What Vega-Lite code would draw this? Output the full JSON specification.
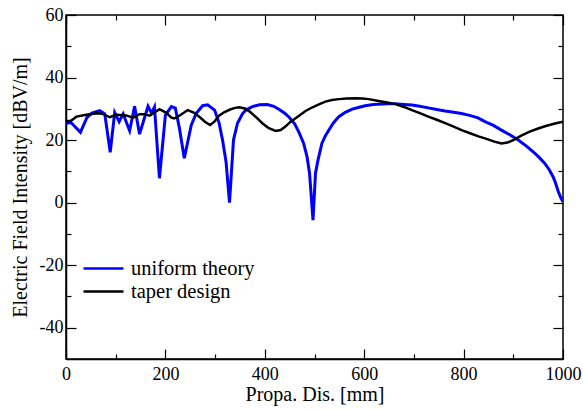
{
  "$schema": "https://vega.github.io/schema/vega-lite/v6.json",
  "width": 497,
  "height": 344,
  "autosize": {"type": "none"},
  "padding": {"left": 66, "top": 15, "right": 20, "bottom": 51},
  "background": "white",
  "config": {
    "view": {"stroke": "black", "strokeWidth": 1.5},
    "font": "Liberation Serif",
    "axis": {"grid": false, "domainColor": "black", "domainWidth": 1.5, "tickColor": "black", "tickWidth": 1.2, "labelColor": "black", "titleColor": "black", "labelFont": "Liberation Serif", "titleFont": "Liberation Serif", "labelFontSize": 18, "titleFontSize": 20, "titleFontWeight": "normal"}
  },
  "datasets": {
    "uniform": [
      {"series": "uniform theory", "x": 0, "y": 25.4}, {"series": "uniform theory", "x": 10, "y": 25.6}, {"series": "uniform theory", "x": 29, "y": 22.5}, {"series": "uniform theory", "x": 42, "y": 27.2}, {"series": "uniform theory", "x": 52, "y": 28.6}, {"series": "uniform theory", "x": 68, "y": 29.4}, {"series": "uniform theory", "x": 78, "y": 28.4}, {"series": "uniform theory", "x": 89, "y": 16.1}, {"series": "uniform theory", "x": 98, "y": 28.8}, {"series": "uniform theory", "x": 107, "y": 25.9}, {"series": "uniform theory", "x": 115, "y": 28.4}, {"series": "uniform theory", "x": 128, "y": 23.0}, {"series": "uniform theory", "x": 138, "y": 30.8}, {"series": "uniform theory", "x": 148, "y": 21.9}, {"series": "uniform theory", "x": 165, "y": 30.8}, {"series": "uniform theory", "x": 172, "y": 28.6}, {"series": "uniform theory", "x": 178, "y": 30.6}, {"series": "uniform theory", "x": 188, "y": 7.8}, {"series": "uniform theory", "x": 200, "y": 28.0}, {"series": "uniform theory", "x": 212, "y": 30.7}, {"series": "uniform theory", "x": 220, "y": 30.2}, {"series": "uniform theory", "x": 228, "y": 24.0}, {"series": "uniform theory", "x": 238, "y": 14.2}, {"series": "uniform theory", "x": 252, "y": 24.8}, {"series": "uniform theory", "x": 262, "y": 28.6}, {"series": "uniform theory", "x": 275, "y": 31.0}, {"series": "uniform theory", "x": 285, "y": 31.3}, {"series": "uniform theory", "x": 299, "y": 29.6}, {"series": "uniform theory", "x": 308, "y": 25.5}, {"series": "uniform theory", "x": 315, "y": 20.0}, {"series": "uniform theory", "x": 322, "y": 13.1}, {"series": "uniform theory", "x": 329, "y": 0.0}, {"series": "uniform theory", "x": 337, "y": 20.0}, {"series": "uniform theory", "x": 345, "y": 25.4}, {"series": "uniform theory", "x": 355, "y": 28.4}, {"series": "uniform theory", "x": 362, "y": 29.6}, {"series": "uniform theory", "x": 375, "y": 30.7}, {"series": "uniform theory", "x": 389, "y": 31.3}, {"series": "uniform theory", "x": 405, "y": 31.4}, {"series": "uniform theory", "x": 418, "y": 30.8}, {"series": "uniform theory", "x": 429, "y": 29.8}, {"series": "uniform theory", "x": 440, "y": 28.6}, {"series": "uniform theory", "x": 449, "y": 27.3}, {"series": "uniform theory", "x": 460, "y": 25.2}, {"series": "uniform theory", "x": 469, "y": 22.4}, {"series": "uniform theory", "x": 478, "y": 19.0}, {"series": "uniform theory", "x": 485, "y": 14.7}, {"series": "uniform theory", "x": 490, "y": 9.4}, {"series": "uniform theory", "x": 497, "y": -5.6}, {"series": "uniform theory", "x": 502, "y": 9.4}, {"series": "uniform theory", "x": 507, "y": 13.6}, {"series": "uniform theory", "x": 515, "y": 19.0}, {"series": "uniform theory", "x": 522, "y": 21.4}, {"series": "uniform theory", "x": 529, "y": 23.2}, {"series": "uniform theory", "x": 538, "y": 25.5}, {"series": "uniform theory", "x": 549, "y": 27.5}, {"series": "uniform theory", "x": 562, "y": 28.9}, {"series": "uniform theory", "x": 576, "y": 29.9}, {"series": "uniform theory", "x": 590, "y": 30.5}, {"series": "uniform theory", "x": 602, "y": 31.0}, {"series": "uniform theory", "x": 615, "y": 31.3}, {"series": "uniform theory", "x": 629, "y": 31.5}, {"series": "uniform theory", "x": 645, "y": 31.6}, {"series": "uniform theory", "x": 662, "y": 31.6}, {"series": "uniform theory", "x": 680, "y": 31.4}, {"series": "uniform theory", "x": 696, "y": 31.2}, {"series": "uniform theory", "x": 712, "y": 30.8}, {"series": "uniform theory", "x": 729, "y": 30.3}, {"series": "uniform theory", "x": 746, "y": 29.8}, {"series": "uniform theory", "x": 763, "y": 29.3}, {"series": "uniform theory", "x": 780, "y": 28.9}, {"series": "uniform theory", "x": 796, "y": 28.5}, {"series": "uniform theory", "x": 812, "y": 27.9}, {"series": "uniform theory", "x": 829, "y": 27.1}, {"series": "uniform theory", "x": 843, "y": 25.9}, {"series": "uniform theory", "x": 860, "y": 24.7}, {"series": "uniform theory", "x": 876, "y": 23.2}, {"series": "uniform theory", "x": 893, "y": 21.7}, {"series": "uniform theory", "x": 910, "y": 20.0}, {"series": "uniform theory", "x": 927, "y": 18.0}, {"series": "uniform theory", "x": 943, "y": 15.8}, {"series": "uniform theory", "x": 953, "y": 14.3}, {"series": "uniform theory", "x": 963, "y": 12.6}, {"series": "uniform theory", "x": 972, "y": 10.6}, {"series": "uniform theory", "x": 980, "y": 8.3}, {"series": "uniform theory", "x": 985, "y": 6.3}, {"series": "uniform theory", "x": 990, "y": 3.8}, {"series": "uniform theory", "x": 995, "y": 1.8}, {"series": "uniform theory", "x": 1000, "y": 0.3}
    ],
    "taper": [
      {"series": "taper design", "x": 0, "y": 26.0}, {"series": "taper design", "x": 10, "y": 26.2}, {"series": "taper design", "x": 21, "y": 27.5}, {"series": "taper design", "x": 41, "y": 28.1}, {"series": "taper design", "x": 55, "y": 28.4}, {"series": "taper design", "x": 65, "y": 28.6}, {"series": "taper design", "x": 75, "y": 28.3}, {"series": "taper design", "x": 88, "y": 27.3}, {"series": "taper design", "x": 101, "y": 28.1}, {"series": "taper design", "x": 121, "y": 27.9}, {"series": "taper design", "x": 135, "y": 27.2}, {"series": "taper design", "x": 148, "y": 28.3}, {"series": "taper design", "x": 158, "y": 28.3}, {"series": "taper design", "x": 168, "y": 27.8}, {"series": "taper design", "x": 178, "y": 28.8}, {"series": "taper design", "x": 188, "y": 29.9}, {"series": "taper design", "x": 202, "y": 28.7}, {"series": "taper design", "x": 212, "y": 27.2}, {"series": "taper design", "x": 218, "y": 26.9}, {"series": "taper design", "x": 228, "y": 27.8}, {"series": "taper design", "x": 245, "y": 29.6}, {"series": "taper design", "x": 258, "y": 28.7}, {"series": "taper design", "x": 270, "y": 27.2}, {"series": "taper design", "x": 280, "y": 25.8}, {"series": "taper design", "x": 290, "y": 24.8}, {"series": "taper design", "x": 298, "y": 25.8}, {"series": "taper design", "x": 308, "y": 27.8}, {"series": "taper design", "x": 318, "y": 28.9}, {"series": "taper design", "x": 329, "y": 29.7}, {"series": "taper design", "x": 340, "y": 30.3}, {"series": "taper design", "x": 349, "y": 30.5}, {"series": "taper design", "x": 360, "y": 30.1}, {"series": "taper design", "x": 369, "y": 29.2}, {"series": "taper design", "x": 382, "y": 27.4}, {"series": "taper design", "x": 395, "y": 25.4}, {"series": "taper design", "x": 408, "y": 23.8}, {"series": "taper design", "x": 422, "y": 22.9}, {"series": "taper design", "x": 432, "y": 23.2}, {"series": "taper design", "x": 442, "y": 24.4}, {"series": "taper design", "x": 452, "y": 25.9}, {"series": "taper design", "x": 469, "y": 27.8}, {"series": "taper design", "x": 482, "y": 29.3}, {"series": "taper design", "x": 496, "y": 30.5}, {"series": "taper design", "x": 510, "y": 31.5}, {"series": "taper design", "x": 522, "y": 32.3}, {"series": "taper design", "x": 535, "y": 32.8}, {"series": "taper design", "x": 549, "y": 33.1}, {"series": "taper design", "x": 565, "y": 33.3}, {"series": "taper design", "x": 582, "y": 33.4}, {"series": "taper design", "x": 596, "y": 33.3}, {"series": "taper design", "x": 609, "y": 33.1}, {"series": "taper design", "x": 629, "y": 32.5}, {"series": "taper design", "x": 646, "y": 32.0}, {"series": "taper design", "x": 663, "y": 31.5}, {"series": "taper design", "x": 680, "y": 30.6}, {"series": "taper design", "x": 696, "y": 29.6}, {"series": "taper design", "x": 712, "y": 28.6}, {"series": "taper design", "x": 729, "y": 27.5}, {"series": "taper design", "x": 746, "y": 26.5}, {"series": "taper design", "x": 763, "y": 25.4}, {"series": "taper design", "x": 780, "y": 24.3}, {"series": "taper design", "x": 796, "y": 23.2}, {"series": "taper design", "x": 813, "y": 22.2}, {"series": "taper design", "x": 830, "y": 21.2}, {"series": "taper design", "x": 846, "y": 20.4}, {"series": "taper design", "x": 862, "y": 19.5}, {"series": "taper design", "x": 876, "y": 18.9}, {"series": "taper design", "x": 888, "y": 19.2}, {"series": "taper design", "x": 900, "y": 20.0}, {"series": "taper design", "x": 916, "y": 21.4}, {"series": "taper design", "x": 933, "y": 22.7}, {"series": "taper design", "x": 950, "y": 23.7}, {"series": "taper design", "x": 967, "y": 24.6}, {"series": "taper design", "x": 984, "y": 25.3}, {"series": "taper design", "x": 1000, "y": 25.9}
    ]
  },
  "layer": [
    {
      "data": {"name": "uniform"},
      "mark": {"type": "line", "strokeWidth": 3, "clip": true},
      "encoding": {
        "x": {"field": "x", "type": "quantitative", "scale": {"domain": [0, 1000], "nice": false},
          "axis": {"orient": "bottom", "title": "Propa. Dis. [mm]", "values": [0, 100, 200, 300, 400, 500, 600, 700, 800, 900, 1000],
            "labelExpr": "datum.value % 200 === 0 ? '' + datum.value : ''",
            "tickSize": {"condition": {"test": "datum.value % 200 === 0", "value": -10}, "value": -5},
            "labelPadding": 16, "titlePadding": 1, "labelFlush": false}},
        "y": {"field": "y", "type": "quantitative", "scale": {"domain": [-50, 60], "nice": false},
          "axis": {"orient": "left", "title": "Electric Field Intensity [dBV/m]", "values": [-40, -30, -20, -10, 0, 10, 20, 30, 40, 50, 60],
            "labelExpr": "datum.value % 20 === 0 ? '' + datum.value : ''",
            "tickSize": {"condition": {"test": "datum.value % 20 === 0", "value": -10}, "value": -5},
            "labelPadding": 13, "titlePadding": 9, "labelFlush": false}},
        "color": {"field": "series", "type": "nominal",
          "scale": {"domain": ["uniform theory", "taper design"], "range": ["#0000ff", "#000000"]},
          "legend": {"title": null, "orient": "none", "legendX": 26, "legendY": 242, "symbolType": "M-2,0L2,0", "symbolSize": 400, "symbolStrokeWidth": 2.5, "labelFontSize": 20.5, "labelFont": "Liberation Serif", "labelColor": "black", "labelOffset": 16, "rowPadding": 1, "padding": 0}}
      }
    },
    {
      "data": {"name": "taper"},
      "mark": {"type": "line", "strokeWidth": 2.5, "clip": true},
      "encoding": {
        "x": {"field": "x", "type": "quantitative",
          "axis": {"orient": "top", "title": null, "labels": false, "domain": false, "values": [0, 100, 200, 300, 400, 500, 600, 700, 800, 900, 1000],
            "tickSize": {"condition": {"test": "datum.value % 200 === 0", "value": -10}, "value": -5}}},
        "y": {"field": "y", "type": "quantitative",
          "axis": {"orient": "right", "title": null, "labels": false, "domain": false, "values": [-40, -30, -20, -10, 0, 10, 20, 30, 40, 50, 60],
            "tickSize": {"condition": {"test": "datum.value % 20 === 0", "value": -10}, "value": -5}}},
        "color": {"field": "series", "type": "nominal"}
      }
    }
  ],
  "resolve": {"axis": {"x": "independent", "y": "independent"}}
}
